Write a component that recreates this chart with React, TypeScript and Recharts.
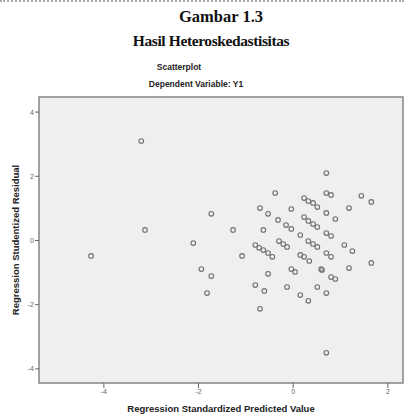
import React from 'react'
import {
  ScatterChart, Scatter, XAxis, YAxis, ReferenceArea, Label
} from 'recharts'

// standardized predicted value
const predicted = [
  -4.27, -3.21, -3.13, -2.11, -1.94, -1.73, -1.73, -1.82, -1.27, -1.08,
  -0.80, -0.72, -0.63, -0.53, -0.44, -0.80, -0.70, -0.70, -0.63, -0.61,
  -0.53, -0.53, -0.38, -0.32, -0.30, -0.21, -0.13, -0.15, -0.04, -0.13,
  -0.04, -0.04, 0.04, 0.15, 0.15, 0.23, 0.34, 0.15, 0.23, 0.32,
  0.42, 0.51, 0.23, 0.32, 0.42, 0.51, 0.32, 0.42, 0.51, 0.32,
  0.51, 0.59, 0.61, 0.70, 0.70, 0.80, 0.70, 0.70, 0.80, 0.70,
  0.80, 0.70, 0.70, 0.80, 0.89, 0.89, 1.08, 1.18, 1.18, 1.25,
  1.44, 1.65, 1.65,
]

// studentized residual
const residual = [
  -0.48, 3.10, 0.33, -0.08, -0.89, 0.83, -1.11, -1.64, 0.33, -0.48,
  -0.14, -0.23, -0.30, -0.39, -0.51, -1.39, 1.01, -2.13, 0.33, -1.57,
  0.83, -1.04, 1.48, 0.64, -0.02, -0.11, -0.20, 0.48, 0.36, -1.45,
  0.98, -0.89, -0.98, 0.17, -0.45, -0.51, -0.64, -1.70, 1.32, 1.23,
  1.17, 1.04, 0.73, 0.61, 0.51, 0.42, -0.02, -0.11, -0.20, -1.88,
  -1.45, -0.89, -0.92, 2.10, 1.48, 1.42, 0.86, 0.23, 0.14, -0.39,
  -0.51, -1.64, -3.50, -1.14, -1.20, 0.67, -0.14, 1.01, -0.86, -0.33,
  1.39, 1.20, -0.70,
]

const xTicks = [-4, -2, 0, 2]
const yTicks = [-4, -2, 0, 2, 4]

const points = predicted.map((x, i) => ({ x, y: residual[i] }))

const X_DOMAIN: [number, number] = [-5.37, 2.32]
const Y_DOMAIN: [number, number] = [-4.44, 4.47]

const tickStyle = { fontSize: 7, fill: '#666', fontFamily: 'Arial, "Liberation Sans", sans-serif' }
const labelStyle = {
  fontSize: 9.5,
  fontWeight: 700,
  fill: '#222',
  fontFamily: 'Arial, "Liberation Sans", sans-serif',
  textAnchor: 'middle' as const,
}
const serif = '"Liberation Serif", "Times New Roman", serif'
const sans = 'Arial, "Liberation Sans", sans-serif'

function Dot(props: any) {
  return <circle cx={props.cx} cy={props.cy} r={2.3} fill="none" stroke="#707070" strokeWidth={1.1} />
}

export default function App() {
  return (
    <div style={{ position: 'fixed', left: 0, top: 0, width: 404, height: 418, background: '#fff', overflow: 'hidden' }}>
      <div style={{ position: 'absolute', left: 0, top: 0, width: 404, borderTop: '2px dotted #aaa' }} />
      <div
        style={{
          position: 'absolute', left: 0, top: 7, width: 442, textAlign: 'center',
          fontFamily: serif, fontWeight: 700, fontSize: 16.5, lineHeight: '19px', color: '#111',
        }}
      >
        Gambar 1.3
      </div>
      <div
        style={{
          position: 'absolute', left: 0, top: 31, width: 422, textAlign: 'center', letterSpacing: -0.4,
          fontFamily: serif, fontWeight: 700, fontSize: 15.5, lineHeight: '19px', color: '#111',
        }}
      >
        Hasil Heteroskedastisitas
      </div>
      <div
        style={{
          position: 'absolute', left: 0, top: 62, width: 358, textAlign: 'center',
          fontFamily: sans, fontWeight: 700, fontSize: 8.5, lineHeight: '11px', color: '#222',
        }}
      >
        Scatterplot
      </div>
      <div
        style={{
          position: 'absolute', left: 0, top: 79, width: 392, textAlign: 'center',
          fontFamily: sans, fontWeight: 700, fontSize: 8.5, lineHeight: '11px', color: '#222',
        }}
      >
        Dependent Variable: Y1
      </div>
      <ScatterChart width={404} height={418} margin={{ top: 97, right: 1, bottom: 15, left: 9 }}>
        <ReferenceArea
          x1={X_DOMAIN[0]} x2={X_DOMAIN[1]} y1={Y_DOMAIN[0]} y2={Y_DOMAIN[1]}
          fill="#efefef" fillOpacity={1} stroke="#858585" strokeWidth={1.5}
        />
        <XAxis
          type="number" dataKey="x" domain={X_DOMAIN} ticks={xTicks} allowDataOverflow
          height={20} tickSize={5} tickMargin={1} tick={tickStyle}
          axisLine={false} tickLine={{ stroke: '#666' }}
        >
          <Label value="Regression Standardized Predicted Value" position="bottom" offset={2} style={labelStyle} />
        </XAxis>
        <YAxis
          type="number" dataKey="y" domain={Y_DOMAIN} ticks={yTicks} allowDataOverflow
          width={30} tickSize={4} tickMargin={1} tick={tickStyle}
          axisLine={false} tickLine={{ stroke: '#666' }}
        >
          <Label value="Regression Studentized Residual" angle={-90} position="insideLeft" offset={7} style={labelStyle} />
        </YAxis>
        <Scatter data={points} shape={<Dot />} isAnimationActive={false} />
      </ScatterChart>
    </div>
  )
}
